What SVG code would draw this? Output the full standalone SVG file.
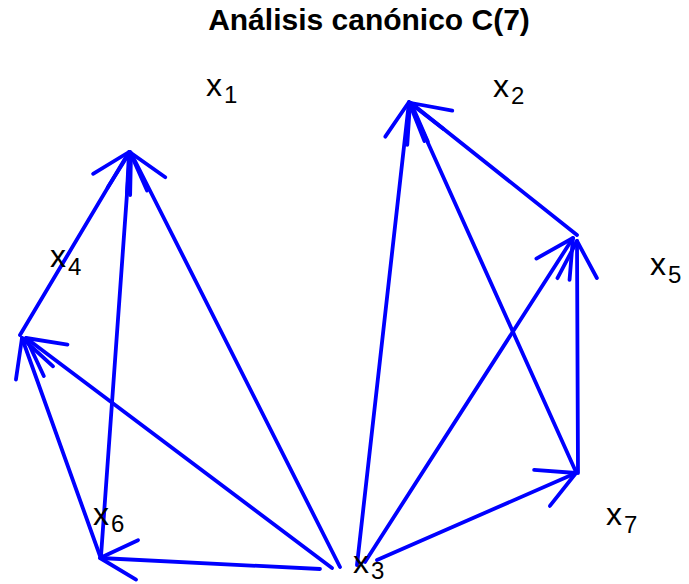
<svg xmlns="http://www.w3.org/2000/svg" width="689" height="584" viewBox="0 0 689 584">
  <style>
    .title { font-family: "Liberation Sans", Arial, sans-serif; font-weight: bold; font-size: 30px; fill: #000; }
    .lbl { font-family: "Liberation Sans", Arial, sans-serif; font-size: 32px; fill: #000; }
    .sub { font-size: 24px; }
    .edge { fill: none; stroke: #0000ff; stroke-width: 3.8; stroke-linecap: round; marker-end: url(#ah); }
  </style>
  <defs>
    <marker id="ah" markerUnits="userSpaceOnUse" viewBox="-45 -25 50 50" markerWidth="50" markerHeight="50" refX="0" refY="0" orient="auto" overflow="visible">
      <path d="M-37.1,-19.7 L0,0 L-37.1,19.7" fill="none" stroke="#0000ff" stroke-width="3.8" stroke-linecap="round" stroke-linejoin="round"/>
    </marker>
  </defs>
  <rect width="689" height="584" fill="#fff"/>
  <text class="title" x="369" y="30" text-anchor="middle">Análisis canónico C(7)</text>

  <g id="connectors">
    <line class="edge" x1="20" y1="335" x2="129" y2="152"/>
    <line class="edge" x1="101" y1="556" x2="130" y2="152"/>
    <line class="edge" x1="340" y1="567" x2="131" y2="153"/>
    <line class="edge" x1="332" y1="568" x2="26" y2="338"/>
    <line class="edge" x1="100" y1="556" x2="22" y2="338"/>
    <line class="edge" x1="320" y1="569" x2="100" y2="558"/>
    <line class="edge" x1="357" y1="565" x2="409" y2="102"/>
    <line class="edge" x1="576" y1="472" x2="410" y2="103"/>
    <line class="edge" x1="577" y1="235" x2="411" y2="103"/>
    <line class="edge" x1="365" y1="562" x2="573" y2="238"/>
    <line class="edge" x1="578" y1="473" x2="577" y2="241"/>
    <line class="edge" x1="377" y1="560" x2="576" y2="473"/>
  </g>

  <g id="node-x1"><text class="lbl" x="206" y="96">x<tspan class="sub" dx="2" dy="7">1</tspan></text></g>
  <g id="node-x2"><text class="lbl" x="493" y="97">x<tspan class="sub" dx="2" dy="7">2</tspan></text></g>
  <g id="node-x3"><text class="lbl" x="353" y="573">x<tspan class="sub" dx="2" dy="6">3</tspan></text></g>
  <g id="node-x4"><text class="lbl" x="50" y="267">x<tspan class="sub" dx="2" dy="8">4</tspan></text></g>
  <g id="node-x5"><text class="lbl" x="650" y="275">x<tspan class="sub" dx="2" dy="8">5</tspan></text></g>
  <g id="node-x6"><text class="lbl" x="93" y="525">x<tspan class="sub" dx="2" dy="7">6</tspan></text></g>
  <g id="node-x7"><text class="lbl" x="606" y="525">x<tspan class="sub" dx="2" dy="8">7</tspan></text></g>
</svg>
